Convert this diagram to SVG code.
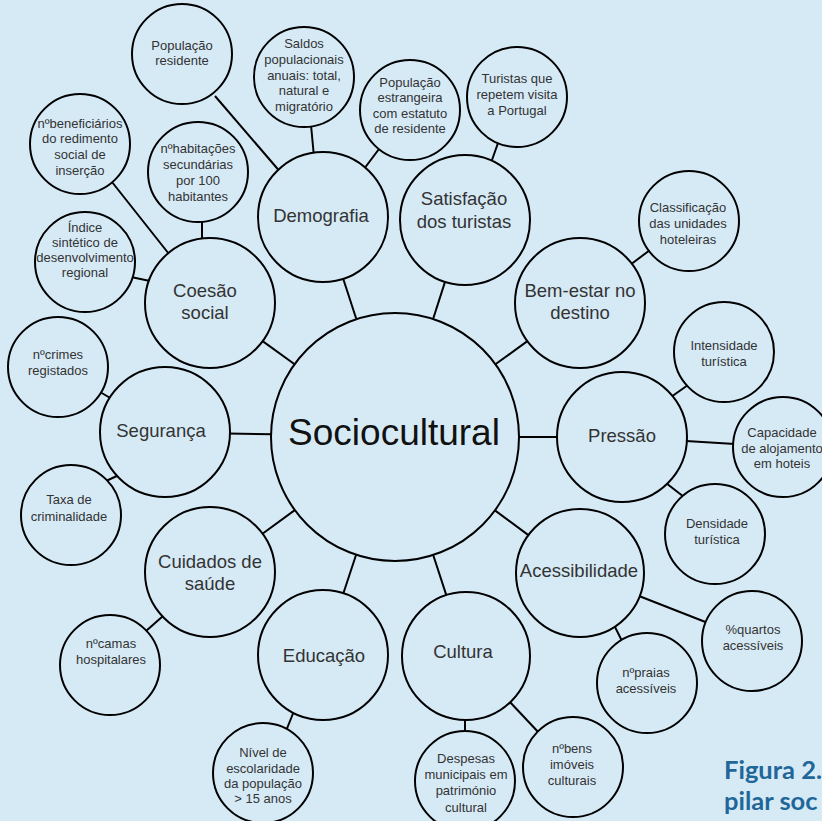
<svg xmlns="http://www.w3.org/2000/svg" width="822" height="821" viewBox="0 0 822 821">
<style>
.bg{fill:#d6eaf6}
.node circle{fill:#d6eaf6;stroke:#000;stroke-width:2}
text{font-family:"Liberation Sans",Arial,sans-serif;text-anchor:middle;fill:#333}
.s{font-size:13px}
.m{font-size:18.5px}
.big{font-size:37px;fill:#111}
.cap{font-family:Lato,"Liberation Sans",Arial,sans-serif;font-weight:bold;font-size:25.5px;fill:#1f6798;text-anchor:start}
#connectors line{stroke:#000;stroke-width:2}
</style>
<rect class="bg" x="0" y="0" width="822" height="821"/>
<g id="connectors">
<line x1="356.4" y1="319.2" x2="343.2" y2="278.8"/>
<line x1="433.1" y1="319" x2="445" y2="281.9"/>
<line x1="495.4" y1="364.3" x2="527.4" y2="341.1"/>
<line x1="517" y1="437" x2="559" y2="437"/>
<line x1="494.9" y1="510.4" x2="528.4" y2="535.1"/>
<line x1="433.2" y1="555" x2="446.3" y2="595.1"/>
<line x1="356.1" y1="554.7" x2="343.4" y2="593.3"/>
<line x1="294.8" y1="510.1" x2="262.5" y2="533.7"/>
<line x1="273" y1="434.3" x2="228" y2="433.4"/>
<line x1="294.6" y1="364.3" x2="262.6" y2="341.1"/>
<line x1="215" y1="96" x2="282" y2="174"/>
<line x1="311" y1="125" x2="314" y2="157"/>
<line x1="379" y1="149" x2="364" y2="169"/>
<line x1="498" y1="143" x2="492" y2="160"/>
<line x1="650" y1="250" x2="630" y2="265"/>
<line x1="688" y1="385" x2="671" y2="397"/>
<line x1="735" y1="444" x2="686" y2="441"/>
<line x1="684" y1="497" x2="666" y2="483"/>
<line x1="708" y1="623" x2="639" y2="596"/>
<line x1="623" y1="643" x2="614" y2="625"/>
<line x1="540" y1="734" x2="509" y2="701"/>
<line x1="465" y1="733" x2="465" y2="718"/>
<line x1="286" y1="731" x2="294" y2="711"/>
<line x1="146" y1="631" x2="163" y2="616"/>
<line x1="106" y1="481" x2="119" y2="475"/>
<line x1="100" y1="392" x2="112" y2="399"/>
<line x1="131" y1="277" x2="150" y2="281"/>
<line x1="112" y1="182" x2="169" y2="254"/>
<line x1="202" y1="220" x2="202" y2="239"/>
</g>
<g id="sociocultural" class="node"><circle cx="395" cy="437" r="124"/><text class="big" x="394" y="445">Sociocultural</text></g>
<g id="demografia" class="node"><circle cx="323" cy="217" r="65"/><text class="m" x="321" y="222">Demografia</text></g>
<g id="satisfacao" class="node"><circle cx="465" cy="220" r="65"/><text class="m" x="464" y="205">Satisfação</text><text class="m" x="464" y="228">dos turistas</text></g>
<g id="bemestar" class="node"><circle cx="580" cy="303" r="65"/><text class="m" x="580" y="297">Bem-estar no</text><text class="m" x="580" y="319">destino</text></g>
<g id="pressao" class="node"><circle cx="622" cy="437" r="65"/><text class="m" x="622" y="442">Pressão</text></g>
<g id="acessibilidade" class="node"><circle cx="580" cy="573" r="64"/><text class="m" x="579" y="577">Acessibilidade</text></g>
<g id="cultura" class="node"><circle cx="466" cy="656" r="64"/><text class="m" x="463" y="658">Cultura</text></g>
<g id="educacao" class="node"><circle cx="323" cy="655" r="65"/><text class="m" x="324" y="662">Educação</text></g>
<g id="cuidados" class="node"><circle cx="210" cy="572" r="65"/><text class="m" x="210" y="568">Cuidados de</text><text class="m" x="210" y="590">saúde</text></g>
<g id="seguranca" class="node"><circle cx="165" cy="432" r="65"/><text class="m" x="161" y="437">Segurança</text></g>
<g id="coesao" class="node"><circle cx="210" cy="303" r="65"/><text class="m" x="205" y="297">Coesão</text><text class="m" x="205" y="319">social</text></g>
<g id="popres" class="node"><circle cx="182" cy="54" r="50"/><text class="s" x="182" y="50">População</text><text class="s" x="182" y="65">residente</text></g>
<g id="saldos" class="node"><circle cx="304" cy="77" r="50"/><text class="s" x="304" y="48">Saldos</text><text class="s" x="304" y="64">populacionais</text><text class="s" x="304" y="80">anuais: total,</text><text class="s" x="304" y="95">natural e</text><text class="s" x="304" y="111">migratório</text></g>
<g id="popest" class="node"><circle cx="410" cy="110" r="50"/><text class="s" x="410" y="87">População</text><text class="s" x="410" y="102">estrangeira</text><text class="s" x="410" y="118">com estatuto</text><text class="s" x="410" y="133">de residente</text></g>
<g id="turistas" class="node"><circle cx="517" cy="97" r="50"/><text class="s" x="517" y="83">Turistas que</text><text class="s" x="517" y="99">repetem visita</text><text class="s" x="517" y="115">a Portugal</text></g>
<g id="classif" class="node"><circle cx="689" cy="221" r="50"/><text class="s" x="688" y="212">Classificação</text><text class="s" x="688" y="228">das unidades</text><text class="s" x="688" y="244">hoteleiras</text></g>
<g id="intens" class="node"><circle cx="724" cy="352" r="50"/><text class="s" x="724" y="350">Intensidade</text><text class="s" x="724" y="366">turística</text></g>
<g id="capac" class="node"><circle cx="783" cy="447" r="50"/><text class="s" x="782" y="437">Capacidade</text><text class="s" x="782" y="453">de alojamento</text><text class="s" x="782" y="468">em hoteis</text></g>
<g id="dens" class="node"><circle cx="715" cy="534" r="50"/><text class="s" x="717" y="528">Densidade</text><text class="s" x="717" y="544">turística</text></g>
<g id="quartos" class="node"><circle cx="752" cy="641" r="50"/><text class="s" x="753" y="634">%quartos</text><text class="s" x="753" y="650">acessíveis</text></g>
<g id="praias" class="node"><circle cx="647" cy="683" r="50"/><text class="s" x="646" y="677">nºpraias</text><text class="s" x="646" y="693">acessíveis</text></g>
<g id="bens" class="node"><circle cx="573" cy="767" r="50"/><text class="s" x="572" y="753">nºbens</text><text class="s" x="572" y="769">imóveis</text><text class="s" x="572" y="785">culturais</text></g>
<g id="despesas" class="node"><circle cx="465" cy="781" r="50"/><text class="s" x="466" y="763">Despesas</text><text class="s" x="466" y="779">municipais em</text><text class="s" x="466" y="795">património</text><text class="s" x="466" y="812">cultural</text></g>
<g id="nivel" class="node"><circle cx="263" cy="773" r="50"/><text class="s" x="263" y="757">Nível de</text><text class="s" x="263" y="773">escolaridade</text><text class="s" x="263" y="788">da população</text><text class="s" x="263" y="803">&gt; 15 anos</text></g>
<g id="camas" class="node"><circle cx="110" cy="665" r="50"/><text class="s" x="111" y="648">nºcamas</text><text class="s" x="111" y="664">hospitalares</text></g>
<g id="taxa" class="node"><circle cx="71" cy="515" r="50"/><text class="s" x="69" y="504">Taxa de</text><text class="s" x="69" y="521">criminalidade</text></g>
<g id="crimes" class="node"><circle cx="58" cy="367" r="50"/><text class="s" x="58" y="359">nºcrimes</text><text class="s" x="58" y="375">registados</text></g>
<g id="indice" class="node"><circle cx="85" cy="262" r="50"/><text class="s" x="85" y="232">Índice</text><text class="s" x="85" y="247">sintético de</text><text class="s" x="85" y="262">desenvolvimento</text><text class="s" x="85" y="277">regional</text></g>
<g id="benef" class="node"><circle cx="80" cy="144" r="50"/><text class="s" x="80" y="128">nºbeneficiários</text><text class="s" x="80" y="143">do redimento</text><text class="s" x="80" y="159">social de</text><text class="s" x="80" y="175">inserção</text></g>
<g id="habit" class="node"><circle cx="198" cy="172" r="50"/><text class="s" x="198" y="153">nºhabitações</text><text class="s" x="198" y="169">secundárias</text><text class="s" x="198" y="185">por 100</text><text class="s" x="198" y="201">habitantes</text></g>
<text class="cap" x="724" y="779">Figura 2.</text>
<text class="cap" x="724" y="810">pilar soc</text>
</svg>
